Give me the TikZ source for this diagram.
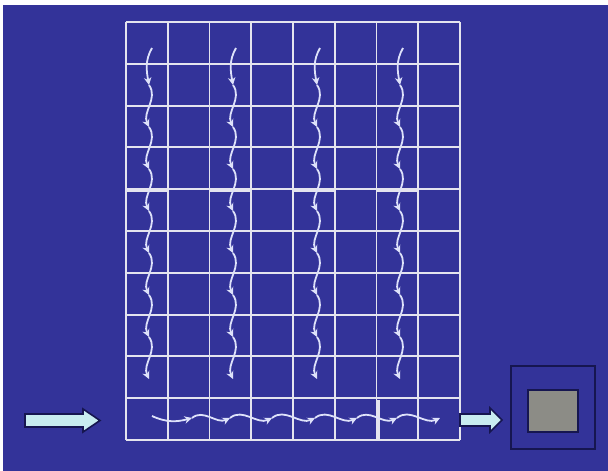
\documentclass[tikz,border=0pt]{standalone}
\usetikzlibrary{arrows.meta}

\definecolor{bgblue}{RGB}{51,51,153}
\definecolor{gridline}{RGB}{228,228,238}
\definecolor{flowline}{RGB}{222,226,250}
\definecolor{navy}{RGB}{22,22,80}
\definecolor{arrowfill}{RGB}{200,236,240}
\definecolor{chipgray}{RGB}{140,140,134}

\begin{document}
\begin{tikzpicture}[
      x=1pt,y=-1pt,
      grid/.style={draw=gridline,line width=1.9pt},
      gridthick/.style={draw=gridline,line width=3pt},
      flow/.style={draw=flowline,line width=1.8pt,-{Stealth[length=7.5pt,width=7.5pt]}},
      blockarrow/.style={draw=navy,fill=arrowfill,line width=1.6pt,line join=miter},
      frame/.style={draw=navy,line width=1.8pt,inner sep=0pt}
    ]
    \useasboundingbox (0,0) rectangle (608,471);
    \fill[white] (0,0) rectangle (608,471);
    \fill[bgblue] (3,5) rectangle (608,471);

    % grid of 8 x 10 cells
    \foreach \x in {0,...,8}
      \draw[grid] (126+41.75*\x,22) -- (126+41.75*\x,440);
    \foreach \y in {0,...,10}
      \draw[grid] (126,22+41.8*\y) -- (460,22+41.8*\y);
    \foreach \x in {0,2,4,6}
      \draw[gridthick] (126+41.75*\x,190) -- (126+41.75*\x+41.75,190);
    \draw[gridthick] (378,400) -- (378,440);

    % column scans
    \foreach \c [count=\i] in {147,231,315,398}{
      \coordinate (v\i-0) at (\c+5,48);
      \foreach \k in {1,...,8}
        \coordinate (v\i-\k) at (\c+2,43+42*\k);
      \draw[flow] (v\i-0) to[out=-120,in=100] (v\i-1);
      \foreach \k [evaluate=\k as \p using int(\k-1)] in {2,...,8}
        \draw[flow] (v\i-\p) to[out=-55,in=115] (v\i-\k);
    }

    % bottom row scan
    \coordinate (h0) at (152,416);
    \foreach \x [count=\j] in {192,230,272,315,357,397,440}
      \coordinate (h\j) at (\x,418);
    \draw[flow] (h0) to[out=-25,in=195] (h1);
    \foreach \j [evaluate=\j as \p using int(\j-1)] in {2,...,7}
      \draw[flow] (h\p) to[out=40,in=205] (h\j);

    % input and output arrows
    \draw[blockarrow] (25,414) -- (83,414) -- (83,409) -- (100,420.5)
      -- (83,432) -- (83,427) -- (25,427) -- cycle;
    \draw[blockarrow] (460,414) -- (490,414) -- (490,408) -- (502,420)
      -- (490,432) -- (490,426) -- (460,426) -- cycle;

    % result box
    \node[frame,minimum width=84pt,minimum height=83pt] (outbox) at (553,407.5) {};
    \node[frame,fill=chipgray,minimum width=50pt,minimum height=42pt] (chip) at (553,411) {};
  \end{tikzpicture}
\end{document}
